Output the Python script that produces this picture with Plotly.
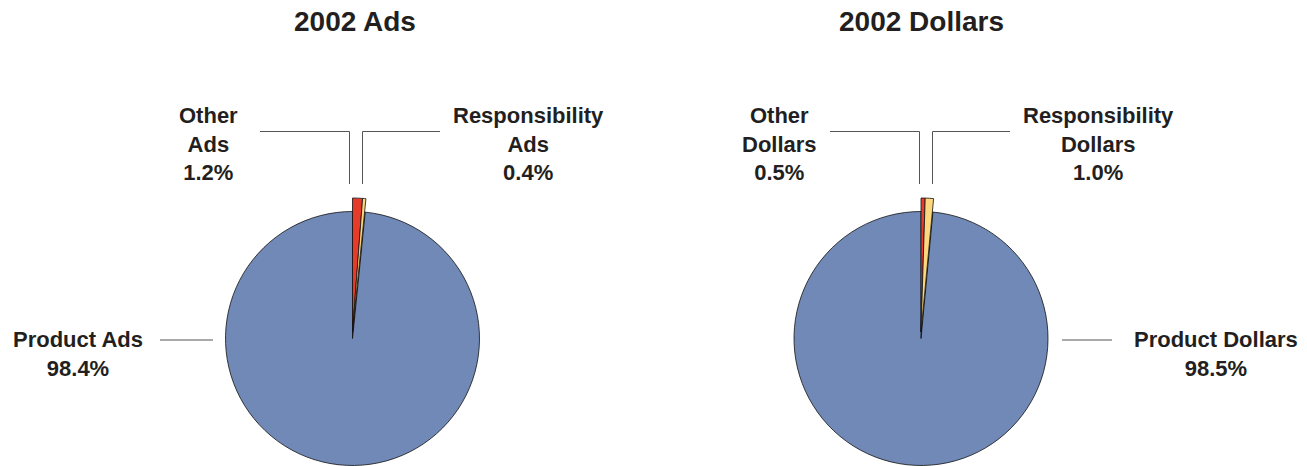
import plotly.graph_objects as go

# ---- data ----
slice_names_ads = ["Other Ads", "Responsibility Ads", "Product Ads"]
ads_values = [1.2, 0.4, 98.4]
slice_names_dollars = ["Other Dollars", "Responsibility Dollars", "Product Dollars"]
dollars_values = [0.5, 1.0, 98.5]
titles = ["2002 Ads", "2002 Dollars"]

# ---- styling ----
W, H = 1307, 466
RED = "#E63B2B"
YELLOW = "#FDD77F"
BLUE = "#7189B7"
TXT = "#231F20"
LEAD = "#555555"
FONT = "Liberation Sans, Arial, Helvetica, sans-serif"
colors_main = [RED, YELLOW, BLUE]
colors_ext = [RED, YELLOW, "rgba(0,0,0,0)"]


def px(x):
    return x / W


def py(y):
    return 1 - y / H


def domain(cx, cy, r):
    return dict(x=[max(0, px(cx - r)), min(1, px(cx + r))],
                y=[max(0, py(cy + r)), min(1, py(cy - r))])


fig = go.Figure()

pies = [
    (slice_names_ads, ads_values, 352.5, 338.5),
    (slice_names_dollars, dollars_values, 921, 338.5),
]
R_MAIN = 127
R_EXT = 134
EXT_TOP = 198

for names, vals, cx, cy in pies:
    fig.add_trace(go.Pie(
        labels=names, values=vals, sort=False, direction="clockwise", rotation=0,
        marker=dict(colors=colors_main, line=dict(color="#111111", width=0.8)),
        textinfo="none", hoverinfo="label+percent", showlegend=False,
        domain=domain(cx, cy, R_MAIN),
    ))
    fig.add_trace(go.Pie(
        labels=names, values=vals, sort=False, direction="clockwise", rotation=0,
        marker=dict(colors=colors_ext, line=dict(color="#111111", width=[0.8, 0.8, 0])),
        textinfo="none", hoverinfo="skip", showlegend=False,
        domain=domain(cx, EXT_TOP + R_EXT, R_EXT),
    ))

annotations = []


def ann(text, x, y, size=22):
    annotations.append(dict(
        text=text, x=px(x), y=py(y), xref="paper", yref="paper",
        xanchor="center", yanchor="middle", showarrow=False, align="center",
        font=dict(family=FONT, size=size, color=TXT, weight="bold"),
    ))


# titles
ann(titles[0], 355, 22, size=28)
ann(titles[1], 921, 22, size=28)

# slice labels
ann("Other<br>Ads<br>1.2%", 208, 144)
ann("Responsibility<br>Ads<br>0.4%", 528, 144)
ann("Product Ads<br>98.4%", 77.5, 353.5)
ann("Other<br>Dollars<br>0.5%", 779.5, 144)
ann("Responsibility<br>Dollars<br>1.0%", 1098, 144)
ann("Product Dollars<br>98.5%", 1216, 353.5)

shapes = []


def seg(pts):
    path = "M " + " L ".join(f"{px(x)},{py(y)}" for x, y in pts)
    shapes.append(dict(type="path", path=path, xref="paper", yref="paper",
                       line=dict(color=LEAD, width=1)))


seg([(260, 131.5), (349.5, 131.5), (349.5, 184)])
seg([(362.5, 184), (362.5, 131.5), (440, 131.5)])
seg([(160, 340), (213, 340)])
seg([(830, 131.5), (919.5, 131.5), (919.5, 184)])
seg([(932.5, 184), (932.5, 131.5), (1010, 131.5)])
seg([(1062, 340), (1112, 340)])

fig.update_layout(
    width=W, height=H, margin=dict(l=0, r=0, t=0, b=0),
    paper_bgcolor="white", plot_bgcolor="white",
    annotations=annotations, shapes=shapes, showlegend=False,
)

fig.write_html("out.html")
